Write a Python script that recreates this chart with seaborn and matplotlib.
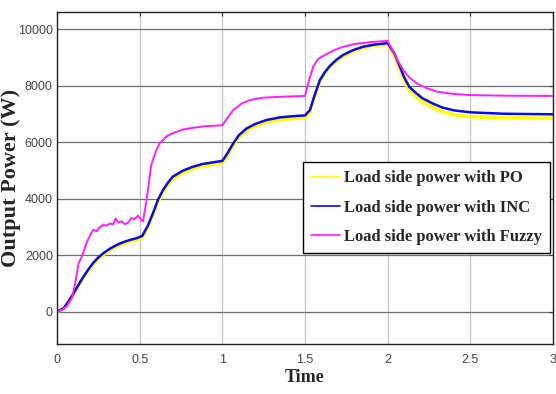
import numpy as np
import pandas as pd
import matplotlib
matplotlib.use('Agg')
import matplotlib.pyplot as plt
import seaborn as sns

# Load side power traces (time in s, power in W)
t_po = [0, 0.04, 0.07, 0.10, 0.13, 0.16, 0.19, 0.22, 0.25, 0.28, 0.32, 0.36, 0.40, 0.44, 0.48, 0.515,
        0.55, 0.58, 0.61, 0.64, 0.67, 0.70, 0.76, 0.82, 0.88, 0.945, 1.0, 1.03, 1.066, 1.10, 1.147, 1.2,
        1.268, 1.348, 1.42, 1.5, 1.53, 1.56, 1.59, 1.62, 1.65, 1.69, 1.73, 1.79, 1.85, 1.92, 2.0, 2.04,
        2.074, 2.10, 2.13, 2.17, 2.21, 2.27, 2.33, 2.40, 2.5, 2.7, 3.0]
p_po = [0, 110, 350, 620, 920, 1200, 1460, 1690, 1870, 2020, 2180, 2310, 2410, 2490, 2550, 2620,
        2990, 3420, 3880, 4230, 4490, 4700, 4920, 5060, 5160, 5220, 5270, 5530, 5890, 6180, 6420, 6580,
        6720, 6800, 6840, 6860, 7070, 7640, 8150, 8440, 8660, 8880, 9050, 9220, 9340, 9430, 9480, 9090,
        8600, 8200, 7870, 7640, 7440, 7240, 7090, 6980, 6910, 6870, 6850]

t_inc = t_po
p_inc = [0, 120, 370, 650, 950, 1240, 1500, 1735, 1920, 2070, 2230, 2360, 2460, 2540, 2600, 2680,
         3050, 3480, 3950, 4300, 4560, 4780, 4990, 5130, 5230, 5290, 5340, 5600, 5960, 6250, 6490, 6650,
         6790, 6880, 6920, 6950, 7140, 7700, 8200, 8480, 8700, 8920, 9090, 9260, 9380, 9460, 9510, 9150,
         8680, 8300, 7970, 7750, 7560, 7380, 7230, 7130, 7060, 7010, 6990]

t_fz = [0, 0.03, 0.06, 0.09, 0.11, 0.13, 0.15, 0.18, 0.20, 0.22, 0.24, 0.26, 0.28, 0.30, 0.32, 0.34,
        0.355, 0.37, 0.39, 0.41, 0.43, 0.45, 0.47, 0.49, 0.51, 0.52, 0.535, 0.55, 0.57, 0.60, 0.62, 0.66,
        0.70, 0.76, 0.82, 0.90, 1.0, 1.03, 1.066, 1.12, 1.17, 1.25, 1.35, 1.5, 1.52, 1.55, 1.58, 1.62,
        1.68, 1.73, 1.8, 1.9, 2.0, 2.03, 2.06, 2.094, 2.13, 2.175, 2.23, 2.30, 2.40, 2.50, 2.70, 3.0]
p_fz = [0, 60, 200, 480, 1000, 1700, 1950, 2450, 2700, 2900, 2850, 3000, 3070, 3050, 3120, 3100,
        3300, 3150, 3200, 3100, 3150, 3320, 3280, 3400, 3250, 3200, 3700, 4300, 5200, 5700, 5950, 6200,
        6320, 6450, 6510, 6570, 6600, 6850, 7140, 7380, 7500, 7580, 7610, 7640, 8100, 8680, 8950, 9090,
        9270, 9380, 9480, 9550, 9590, 9250, 8900, 8560, 8300, 8090, 7930, 7790, 7710, 7670, 7650, 7640]

x_ticks = [0, 0.5, 1, 1.5, 2, 2.5, 3]
x_labels = ['0', '0.5', '1', '1.5', '2', '2.5', '3']
y_ticks = [0, 2000, 4000, 6000, 8000, 10000]

sns.set_style('white')

fig = plt.figure(figsize=(5.56, 3.94), dpi=100)
ax = fig.add_axes([57 / 556, 1 - 344 / 394, 496 / 556, 332 / 394])

sns.lineplot(x=t_po, y=p_po, ax=ax, color='#ffff00', lw=2.6, sort=False, estimator=None,
             label='Load side power with PO')
sns.lineplot(x=t_inc, y=p_inc, ax=ax, color='#0a0ae6', lw=1.8, sort=False, estimator=None,
             label='Load side power with INC')
sns.lineplot(x=t_fz, y=p_fz, ax=ax, color='#ff20ff', lw=1.4, sort=False, estimator=None,
             label='Load side power with Fuzzy')

ax.set_xlim(0, 3)
ax.set_ylim(-1144, 10613)
ax.set_xticks(x_ticks)
ax.set_xticklabels(x_labels)
ax.set_yticks(y_ticks)

for lab in ax.get_xticklabels() + ax.get_yticklabels():
    lab.set_family('Liberation Sans')
    lab.set_fontsize(9)
    lab.set_color('#444444')

ax.tick_params(axis='both', direction='in', length=3, width=0.8, color='#333333',
               top=True, right=True)
ax.tick_params(axis='x', pad=7)
ax.tick_params(axis='y', pad=3)

ax.xaxis.grid(True, color='#c4c4c4', lw=0.9)
ax.yaxis.grid(True, color='#6e6e6e', lw=0.9)
ax.set_axisbelow(True)

for sp in ax.spines.values():
    sp.set_color('#222222')
    sp.set_linewidth(1.0)

ax.set_xlabel('Time', family='Liberation Serif', fontweight='bold', fontsize=13, labelpad=2)
ax.set_ylabel('Output Power (W)', family='Liberation Serif', fontweight='bold', fontsize=16)
ax.yaxis.set_label_coords(-0.072, 0.5)

leg = ax.legend(loc='upper right', bbox_to_anchor=(0.994, 0.548), borderaxespad=0,
                prop={'family': 'Liberation Serif', 'weight': 'bold', 'size': 12},
                fancybox=False, framealpha=1, edgecolor='black', handlelength=1.7,
                handletextpad=0.25, borderpad=0.5, labelspacing=0.8)
leg.get_frame().set_linewidth(1.0)
for ln in leg.get_lines():
    ln.set_linewidth(1.2)

fig.savefig('out.png', dpi=100)
